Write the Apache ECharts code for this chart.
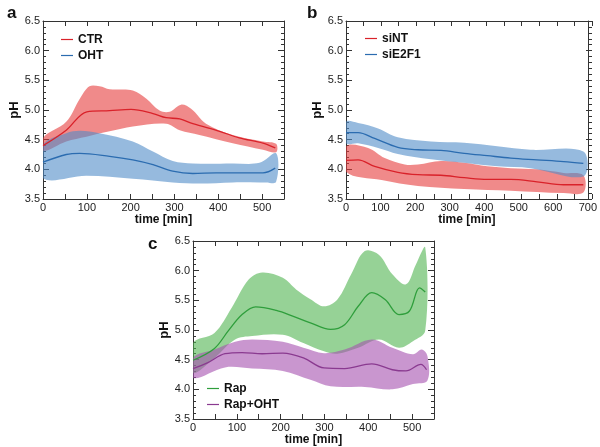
<!DOCTYPE html>
<html>
<head>
<meta charset="utf-8">
<script src="https://cdn.jsdelivr.net/npm/echarts@6/dist/echarts.min.js"></script>
<style>
html,body{margin:0;padding:0;background:#fff;}
#chart{width:600px;height:447px;}
</style>
</head>
<body>
<div id="chart"></div>
<script>
// ---------- Panel a ----------
const ctrMean = [[0,4.40],[53,4.66],[100,4.97],[152,4.99],[201,5.01],[251,4.94],[281,4.87],[312,4.85],[342,4.77],[403,4.64],[448,4.53],[502,4.44],[530,4.36]];
const ctrUpper = [[0,4.53],[53,4.80],[84,5.19],[106,5.40],[129,5.40],[152,5.35],[205,5.33],[236,5.19],[266,4.99],[289,4.97],[315,5.09],[338,5.02],[372,4.77],[433,4.58],[502,4.47],[532,4.43]];
const ctrLower = [[0,4.31],[53,4.47],[99,4.55],[152,4.64],[205,4.72],[281,4.77],[312,4.66],[357,4.58],[433,4.44],[502,4.33],[532,4.29]];
const ohtMean = [[0,4.12],[53,4.25],[84,4.27],[152,4.22],[205,4.16],[251,4.08],[296,3.97],[342,3.93],[395,3.94],[502,3.94],[530,4.02]];
const ohtUpper = [[0,4.41],[53,4.61],[84,4.65],[129,4.61],[205,4.47],[251,4.30],[296,4.14],[342,4.10],[433,4.10],[494,4.11],[532,4.27]];
const ohtLower = [[0,3.85],[99,3.89],[205,3.84],[296,3.78],[357,3.76],[433,3.78],[509,3.78],[532,3.79]];

// ---------- Panel b ----------
const sintMean = [[0,4.15],[35,4.16],[83,4.05],[150,3.95],[208,3.91],[275,3.90],[342,3.86],[409,3.83],[477,3.83],[553,3.79],[630,3.74],[687,3.74]];
const sintUpper = [[0,4.39],[64,4.36],[112,4.19],[170,4.08],[208,4.08],[275,4.14],[342,4.11],[409,4.05],[477,4.02],[553,4.00],[630,3.94],[687,3.90]];
const sintLower = [[0,3.96],[103,3.82],[208,3.72],[342,3.67],[477,3.64],[630,3.60],[687,3.61]];
const sie2f1Mean = [[0,4.62],[35,4.62],[83,4.52],[150,4.37],[208,4.33],[275,4.32],[342,4.27],[409,4.23],[477,4.19],[553,4.16],[630,4.13],[687,4.10]];
const sie2f1Upper = [[0,4.80],[35,4.78],[93,4.69],[150,4.54],[246,4.47],[342,4.45],[438,4.39],[534,4.33],[687,4.30]];
const sie2f1Lower = [[0,4.44],[35,4.44],[93,4.36],[150,4.26],[246,4.17],[342,4.11],[438,4.05],[534,4.02],[687,3.88]];

// ---------- Panel c ----------
const rapMean = [[0,4.49],[49,4.69],[80,4.98],[112,5.26],[143,5.39],[190,5.33],[229,5.23],[268,5.12],[314,5.01],[346,5.09],[377,5.40],[408,5.63],[439,5.51],[470,5.26],[494,5.32],[517,5.71],[530,5.64]];
const rapUpper = [[0,4.78],[49,4.95],[88,5.37],[127,5.85],[158,5.97],[205,5.88],[236,5.68],[268,5.52],[299,5.40],[330,5.52],[361,5.94],[392,6.33],[424,6.27],[455,5.94],[486,5.77],[509,6.11],[530,6.39]];
const rapLower = [[0,4.28],[49,4.53],[96,4.84],[135,4.90],[205,4.92],[252,4.78],[299,4.64],[330,4.60],[377,4.70],[424,4.84],[470,4.70],[502,4.81],[530,4.99]];
const rapOhtMean = [[0,4.35],[34,4.45],[73,4.60],[112,4.62],[158,4.60],[205,4.61],[252,4.53],[299,4.36],[346,4.35],[408,4.43],[455,4.33],[486,4.31],[520,4.42],[533,4.33]];
const rapOhtUpper = [[0,4.53],[49,4.67],[96,4.80],[135,4.84],[205,4.80],[252,4.70],[299,4.61],[346,4.67],[408,4.84],[455,4.70],[502,4.59],[522,4.67],[535,4.56]];
const rapOhtLower = [[0,4.19],[73,4.37],[135,4.35],[205,4.31],[268,4.16],[314,4.05],[392,4.04],[455,4.00],[502,4.09],[535,4.15]];

const yTicks = [3.5, 4.0, 4.5, 5.0, 5.5, 6.0, 6.5];
const xMaxes = [550, 700, 550];

const RED = '#d9222a', BLUE = '#2b6cb0', GREEN = '#2f9e3c', PURPLE = '#8a3a90';
const RED_F = 'rgba(230,60,60,0.6)', BLUE_F = 'rgba(80,140,200,0.6)';
const GREEN_F = 'rgba(80,180,80,0.6)', PURPLE_F = 'rgba(165,80,175,0.6)';

const panels = [
  {left: 43, top: 21, width: 241, height: 178},
  {left: 346, top: 21, width: 246, height: 178},
  {left: 193, top: 241, width: 241, height: 178}
];

const FONT = 'Liberation Sans, Arial, sans-serif';
const axisCol = '#333';
const YMIN = yTicks[0], YMAX = yTicks[yTicks.length - 1];

const grids = [], xAxes = [], yAxes = [];
const mainX = [], mainY = [];

// main grids with axes
panels.forEach((g, i) => {
  const gi = grids.length;
  grids.push(Object.assign({}, g));
  const xbase = {
    gridIndex: gi, type: 'value', min: 0, max: xMaxes[i], interval: 50,
    axisLine: {show: true, onZero: false, lineStyle: {color: axisCol}},
    axisTick: {show: false}, splitLine: {show: false}
  };
  mainX.push(xAxes.length);
  xAxes.push(Object.assign({}, xbase, {
    position: 'bottom',
    axisLabel: {margin: 3, fontSize: 11, color: '#222', fontFamily: FONT,
      formatter: v => (v % 100 === 0 ? String(v) : '')},
    name: 'time [min]', nameLocation: 'middle', nameGap: 12,
    nameTextStyle: {fontWeight: 'bold', fontSize: 12, color: '#111', fontFamily: FONT, verticalAlign: 'top'}
  }));
  xAxes.push(Object.assign({}, xbase, {position: 'top', axisLabel: {show: false}}));
  const ybase = {
    gridIndex: gi, type: 'value', min: YMIN, max: YMAX, interval: 0.5,
    axisLine: {show: true, onZero: false, lineStyle: {color: axisCol}},
    axisTick: {show: false}, splitLine: {show: false}
  };
  mainY.push(yAxes.length);
  yAxes.push(Object.assign({}, ybase, {
    position: 'left',
    axisLabel: {margin: 3, fontSize: 11, color: '#222', fontFamily: FONT, formatter: v => v.toFixed(1)},
    name: 'pH', nameLocation: 'middle', nameGap: 12, nameRotate: 90,
    nameTextStyle: {fontWeight: 'bold', fontSize: 13, color: '#111', fontFamily: FONT}
  }));
  yAxes.push(Object.assign({}, ybase, {position: 'right', axisLabel: {show: false}}));
});

// inward tick marks: thin strip grids along each edge whose split lines are the ticks
function hiddenAxis(gi) {
  return {gridIndex: gi, type: 'value', min: 0, max: 1, show: false};
}
function xStrip(g, xmax, top, len) {
  const gi = grids.length;
  grids.push({left: g.left, top: top, width: g.width, height: len});
  xAxes.push({gridIndex: gi, type: 'value', min: 0, max: xmax, interval: 50,
    axisLine: {show: false}, axisTick: {show: false}, axisLabel: {show: false},
    splitLine: {show: true, lineStyle: {color: axisCol, width: 1}}});
  yAxes.push(hiddenAxis(gi));
}
function yStrip(g, left, len, step) {
  const gi = grids.length;
  grids.push({left: left, top: g.top, width: len, height: g.height});
  yAxes.push({gridIndex: gi, type: 'value', min: YMIN, max: YMAX, interval: step,
    axisLine: {show: false}, axisTick: {show: false}, axisLabel: {show: false},
    splitLine: {show: true, lineStyle: {color: axisCol, width: 1}}});
  xAxes.push(hiddenAxis(gi));
}
panels.forEach((g, i) => {
  xStrip(g, xMaxes[i], g.top + g.height - 5, 5);
  xStrip(g, xMaxes[i], g.top, 5);
  yStrip(g, g.left, 6, 0.5);
  yStrip(g, g.left, 3, 0.1);
  yStrip(g, g.left + g.width - 6, 6, 0.5);
  yStrip(g, g.left + g.width - 3, 3, 0.1);
});

function band(pi, upper, lower, color) {
  const pts = upper.concat(lower.slice().reverse());
  return {
    type: 'custom', xAxisIndex: mainX[pi], yAxisIndex: mainY[pi], silent: true, z: 1,
    data: pts, clip: true,
    renderItem: function (params, api) {
      if (params.dataIndex !== 0) return null;
      const poly = pts.map(p => api.coord(p));
      return {type: 'polygon', shape: {points: poly, smooth: 0.35}, style: {fill: color}};
    }
  };
}
function line(pi, name, data, color) {
  return {
    type: 'line', name: name, xAxisIndex: mainX[pi], yAxisIndex: mainY[pi], data: data,
    smooth: 0.35, symbol: 'none', z: 3,
    lineStyle: {color: color, width: 1.3}, itemStyle: {color: color}
  };
}
function legend(names, left, top) {
  return {
    data: names, orient: 'vertical', left: left, top: top, padding: 0,
    itemWidth: 12, itemHeight: 3, itemGap: 3,
    icon: 'path://M0,0 L20,0 L20,2 L0,2 Z',
    textStyle: {fontWeight: 'bold', fontSize: 12, color: '#111', fontFamily: FONT, lineHeight: 13}
  };
}

const option = {
  animation: false,
  backgroundColor: '#fff',
  title: [
    {text: 'a', left: 2, top: 0, textStyle: {fontWeight: 'bold', fontSize: 17, color: '#111', fontFamily: FONT}},
    {text: 'b', left: 302, top: 0, textStyle: {fontWeight: 'bold', fontSize: 17, color: '#111', fontFamily: FONT}},
    {text: 'c', left: 143, top: 231, textStyle: {fontWeight: 'bold', fontSize: 17, color: '#111', fontFamily: FONT}}
  ],
  grid: grids,
  xAxis: xAxes,
  yAxis: yAxes,
  legend: [
    legend(['CTR', 'OHT'], 61, 33),
    legend(['siNT', 'siE2F1'], 365, 32),
    legend(['Rap', 'Rap+OHT'], 207, 382)
  ],
  series: [
    band(0, ctrUpper, ctrLower, RED_F),
    band(0, ohtUpper, ohtLower, BLUE_F),
    line(0, 'CTR', ctrMean, RED),
    line(0, 'OHT', ohtMean, BLUE),
    band(1, sintUpper, sintLower, RED_F),
    band(1, sie2f1Upper, sie2f1Lower, BLUE_F),
    line(1, 'siNT', sintMean, RED),
    line(1, 'siE2F1', sie2f1Mean, BLUE),
    band(2, rapUpper, rapLower, GREEN_F),
    band(2, rapOhtUpper, rapOhtLower, PURPLE_F),
    line(2, 'Rap', rapMean, GREEN),
    line(2, 'Rap+OHT', rapOhtMean, PURPLE)
  ]
};

const chart = echarts.init(document.getElementById('chart'), null, {renderer: 'canvas'});
chart.setOption(option);
</script>
</body>
</html>
